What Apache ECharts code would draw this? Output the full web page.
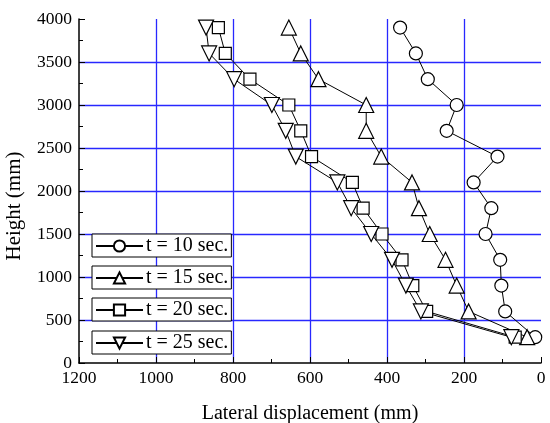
<!DOCTYPE html>
<html>
<head>
<meta charset="utf-8">
<script src="https://cdn.jsdelivr.net/npm/echarts@6/dist/echarts.min.js"></script>
<style>
  html, body { margin: 0; padding: 0; background: #fff; }
  #chart { width: 550px; height: 423px; }
</style>
</head>
<body>
<div id="chart"></div>
<script>
// heights where displacement was measured (mm)
const heights = [300, 600, 900, 1200, 1500, 1800, 2100, 2400, 2700, 3000, 3300, 3600, 3900];

// lateral displacement (mm) at each height
const disp10 = [15, 93, 103, 106, 144, 129, 175, 113, 245, 219, 294, 325, 366];
const disp15 = [36, 188, 219, 248, 289, 317, 335, 415, 454, 454, 578, 624, 655];
const disp20 = [67, 297, 333, 361, 413, 462, 490, 596, 624, 655, 756, 820, 838];
const disp25 = [77, 312, 351, 387, 441, 493, 529, 637, 663, 699, 797, 862, 870];

const seriesNames = ["t = 10 sec.", "t = 15 sec.", "t = 20 sec.", "t = 25 sec."];

const font = "'Liberation Serif', 'DejaVu Serif', serif";

function pairs(xs) {
  return xs.map((x, i) => [x, heights[i]]);
}

function makeSeries(name, xs, symbol, size, rotate) {
  return {
    name: name,
    type: "line",
    data: pairs(xs),
    symbol: symbol,
    symbolSize: size,
    symbolRotate: rotate || 0,
    showAllSymbol: true,
    lineStyle: { color: "#000", width: 1 },
    itemStyle: { color: "#fff", borderColor: "#000", borderWidth: 1.2 },
    z: 3,
  };
}

function makeLegend(name, top) {
  return {
    data: [name],
    left: 92,
    top: top,
    orient: "vertical",
    borderColor: "#000",
    borderWidth: 1,
    backgroundColor: "#fff",
    padding: [2, 3, 1, 3],
    itemWidth: 47,
    itemHeight: 14,
    itemGap: 0,
    textStyle: { fontFamily: font, fontSize: 20, color: "#000", padding: [0, 0, 0, -2] },
    z: 10,
  };
}

const gridLine = {
  show: true,
  showMinLine: false,
  showMaxLine: false,
  lineStyle: { color: "rgb(40,40,255)", width: 1.3 },
};

const option = {
  animation: false,
  backgroundColor: "#fff",
  grid: { left: 79, top: 19, width: 462, height: 344, outerBoundsMode: "none" },
  legend: [
    makeLegend(seriesNames[0], 234),
    makeLegend(seriesNames[1], 266),
    makeLegend(seriesNames[2], 298),
    makeLegend(seriesNames[3], 331),
  ],
  xAxis: {
    type: "value",
    min: 0,
    max: 1200,
    interval: 200,
    inverse: true,
    name: "Lateral displacement (mm)",
    nameLocation: "middle",
    nameGap: 41,
    nameTextStyle: { fontFamily: font, fontSize: 20, color: "#000" },
    axisLine: { onZero: false, lineStyle: { color: "#000", width: 1.5 } },
    axisTick: { inside: true, length: 6, lineStyle: { color: "#000" } },
    minorTick: { show: true, splitNumber: 2, length: 4, lineStyle: { color: "#000" } },
    axisLabel: {
      fontFamily: font, fontSize: 17.5, color: "#000", margin: 6,
      formatter: (v) => String(v),
    },
    splitLine: gridLine,
  },
  yAxis: {
    type: "value",
    position: "left",
    min: 0,
    max: 4000,
    interval: 500,
    name: "Height (mm)",
    nameLocation: "middle",
    nameGap: 54,
    nameTextStyle: { fontFamily: font, fontSize: 21, color: "#000", padding: [0, 30, 0, 0] },
    axisLine: { show: true, onZero: false, lineStyle: { color: "#000", width: 1.5 } },
    axisTick: { show: true, inside: true, length: 6, lineStyle: { color: "#000" } },
    minorTick: { show: true, splitNumber: 2, length: 4, lineStyle: { color: "#000" } },
    axisLabel: {
      fontFamily: font, fontSize: 17.5, color: "#000", margin: 7,
      formatter: (v) => String(v),
    },
    splitLine: gridLine,
  },
  series: [
    makeSeries(seriesNames[0], disp10, "circle", 13),
    makeSeries(seriesNames[1], disp15, "triangle", 15),
    makeSeries(seriesNames[2], disp20, "rect", 12),
    makeSeries(seriesNames[3], disp25, "triangle", 15, 180),
  ],
};

const chart = echarts.init(document.getElementById("chart"));
chart.setOption(option);
</script>
</body>
</html>
